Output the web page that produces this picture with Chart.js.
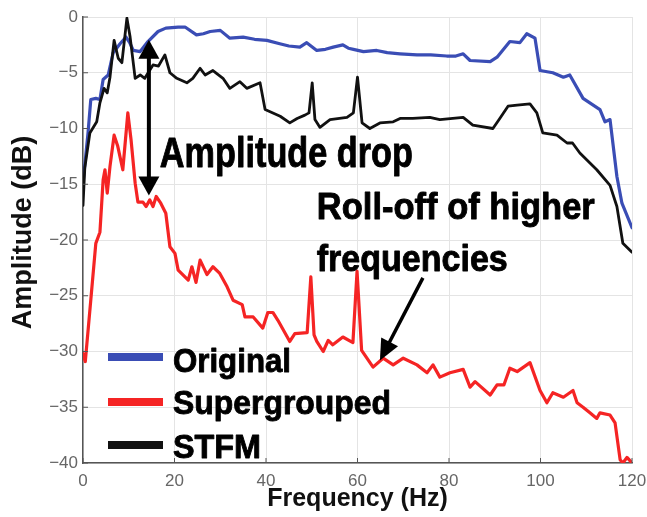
<!DOCTYPE html>
<html><head><meta charset="utf-8">
<script src="https://cdn.jsdelivr.net/npm/chart.js@4"></script>
<style>html,body{margin:0;padding:0;background:#fff}</style>
</head><body>
<canvas id="c" width="647" height="517"></canvas>
<script>
// ---- data ----
const xTickValues = [0, 20, 40, 60, 80, 100, 120];
const yTickValues = [0, -5, -10, -15, -20, -25, -30, -35, -40];

const originalFreq = [0, 1.1, 1.7, 2.8, 3.7, 4.4, 5.5, 6.6, 8.1, 9.4, 10.2, 11.0, 12.5, 14.2, 16.4, 18.1, 20.8, 22.3, 24.8, 26.3, 27.8, 30.0, 32.1, 35.0, 37.5, 40.2, 43.0, 45.0, 47.4, 48.9, 51.1, 53.0, 54.7, 56.8, 58.0, 59.1, 61.3, 64.2, 66.5, 69.3, 73.0, 76.0, 79.5, 81.5, 83.1, 84.6, 89.0, 90.5, 93.3, 95.5, 97.0, 98.8, 99.9, 102.7, 105.0, 106.4, 109.3, 113.0, 114.1, 115.2, 116.7, 117.8, 120];
const originalDb   = [-14.9, -10.4, -7.4, -7.3, -7.4, -5.6, -5.2, -3.2, -2.4, -1.8, -2.3, -3.0, -3.1, -2.2, -1.3, -1.0, -0.9, -0.9, -1.6, -1.5, -1.3, -1.2, -1.9, -1.8, -2.0, -2.1, -2.4, -2.6, -2.7, -2.3, -3.0, -2.9, -2.7, -2.5, -2.8, -2.9, -3.1, -3.0, -3.2, -3.3, -3.4, -3.4, -3.5, -3.5, -3.3, -3.9, -4.0, -3.6, -2.2, -2.3, -1.5, -1.9, -4.8, -5.0, -5.4, -5.2, -7.3, -8.3, -9.4, -9.2, -14.3, -16.7, -18.9];

const stfmFreq = [0, 0.4, 1.5, 3.0, 3.7, 4.6, 5.3, 5.9, 6.8, 7.7, 8.5, 9.6, 10.3, 11.4, 12.5, 13.5, 15.3, 16.5, 17.9, 19.0, 20.5, 22.7, 24.0, 25.6, 26.7, 28.4, 30.6, 32.1, 34.3, 35.8, 38.7, 39.8, 43.1, 45.2, 46.8, 48.5, 49.4, 50.1, 50.7, 51.8, 54.0, 57.7, 59.1, 60.0, 61.0, 62.7, 64.9, 67.8, 69.3, 72.1, 75.8, 78.0, 83.1, 85.2, 89.6, 91.1, 92.9, 94.9, 97.7, 99.2, 100.5, 103.6, 105.8, 107.0, 108.6, 112.3, 115.2, 116.7, 118.0, 120];
const stfmDb   = [-16.9, -13.5, -10.4, -9.4, -7.7, -6.4, -6.8, -5.4, -2.1, -3.7, -4.1, -0.1, -1.8, -5.5, -5.2, -5.5, -4.3, -4.4, -3.4, -5.0, -5.5, -5.9, -5.5, -4.6, -5.2, -4.8, -5.5, -6.4, -5.8, -6.4, -5.9, -8.3, -8.9, -9.5, -9.1, -8.8, -8.6, -5.9, -9.2, -9.9, -9.2, -9.0, -8.6, -5.4, -9.5, -10.0, -9.5, -9.4, -9.1, -9.1, -9.0, -9.2, -9.0, -9.7, -10.0, -9.1, -8.0, -7.9, -7.8, -8.6, -10.4, -10.6, -11.3, -11.3, -12.2, -13.7, -15.1, -17.0, -20.3, -21.1];

const superFreq = [0, 0.5, 1.7, 2.8, 3.7, 4.4, 4.8, 5.3, 5.9, 6.8, 7.6, 8.7, 9.8, 10.5, 11.4, 12.0, 13.1, 13.8, 14.6, 15.3, 16.0, 17.0, 18.1, 19.0, 20.1, 20.8, 23.0, 23.8, 24.7, 25.6, 27.1, 28.4, 29.9, 31.5, 32.8, 34.8, 35.4, 37.2, 39.3, 40.4, 41.5, 42.6, 45.2, 46.3, 49.0, 49.8, 50.5, 51.1, 52.5, 53.6, 54.6, 56.8, 59.0, 59.9, 60.9, 63.4, 65.6, 67.8, 70.0, 73.0, 75.2, 76.5, 78.0, 80.2, 83.1, 84.6, 85.7, 89.0, 90.5, 92.0, 93.3, 94.9, 97.7, 99.9, 101.4, 102.7, 105.0, 107.1, 108.0, 109.3, 110.8, 112.3, 113.0, 115.2, 116.3, 117.4, 118.0, 118.9, 120];
const superDb   = [-30.2, -30.9, -25.4, -20.3, -19.3, -14.6, -13.7, -15.8, -13.4, -10.6, -11.6, -13.7, -8.6, -11.0, -14.9, -16.6, -16.6, -17.0, -16.4, -17.0, -16.1, -16.7, -17.6, -20.6, -21.2, -22.7, -23.6, -22.4, -23.8, -21.8, -23.1, -22.4, -23.0, -24.2, -25.4, -25.8, -26.9, -26.9, -27.9, -26.5, -26.5, -27.2, -29.1, -28.4, -28.3, -23.3, -28.5, -29.1, -30.0, -29.0, -29.4, -28.7, -29.2, -22.8, -29.9, -31.4, -30.6, -31.2, -30.6, -31.2, -31.9, -31.2, -32.3, -31.9, -31.6, -33.2, -32.7, -33.9, -33.0, -33.0, -31.5, -31.8, -31.0, -33.5, -34.6, -33.7, -34.1, -33.5, -34.6, -35.0, -35.5, -36.0, -35.5, -35.7, -36.4, -39.7, -40, -39.5, -40];

const seriesNames  = ['Original', 'Supergrouped', 'STFM'];
const seriesColors = ['#3a4db5', '#f52424', '#111111'];

function pts(fx, fy) { return fx.map((f, i) => ({x: f, y: fy[i]})); }

const FONT = '"Liberation Sans", Arial, Helvetica, sans-serif';

function stretchText(ctx, text, x, y, size, targetW) {
  ctx.save();
  ctx.font = 'bold ' + size + 'px ' + FONT;
  ctx.textBaseline = 'alphabetic';
  ctx.textAlign = 'left';
  const w = ctx.measureText(text).width;
  ctx.translate(x, y);
  ctx.scale(targetW / w, 1);
  ctx.fillStyle = '#000';
  ctx.strokeStyle = '#000';
  ctx.lineWidth = 0.9;
  ctx.lineJoin = 'round';
  ctx.fillText(text, 0, 0);
  ctx.strokeText(text, 0, 0);
  ctx.restore();
}

function arrowHead(ctx, x1, y1, x2, y2, len, wid) {
  const a = Math.atan2(y2 - y1, x2 - x1);
  ctx.beginPath();
  ctx.moveTo(x2, y2);
  ctx.lineTo(x2 - len * Math.cos(a) + wid / 2 * Math.sin(a), y2 - len * Math.sin(a) - wid / 2 * Math.cos(a));
  ctx.lineTo(x2 - len * Math.cos(a) - wid / 2 * Math.sin(a), y2 - len * Math.sin(a) + wid / 2 * Math.cos(a));
  ctx.closePath();
  ctx.fill();
}

const overlay = {
  id: 'overlay',
  afterDatasetsDraw(chart) {
    const ctx = chart.ctx, xs = chart.scales.x, ys = chart.scales.y, ca = chart.chartArea;
    // inward tick marks on the left / bottom axes
    ctx.save();
    ctx.strokeStyle = '#555'; ctx.lineWidth = 1;
    yTickValues.forEach(v => { const y = ys.getPixelForValue(v); ctx.beginPath(); ctx.moveTo(ca.left, y); ctx.lineTo(ca.left + 5, y); ctx.stroke(); });
    xTickValues.forEach(v => { const x = xs.getPixelForValue(v); ctx.beginPath(); ctx.moveTo(x, ca.bottom); ctx.lineTo(x, ca.bottom - 5); ctx.stroke(); });
    ctx.restore();

    ctx.save();
    ctx.fillStyle = '#000'; ctx.strokeStyle = '#000';
    // double-headed arrow ("Amplitude drop")
    const ax = xs.getPixelForValue(14.4), aTop = ys.getPixelForValue(-2.05), aBot = ys.getPixelForValue(-16.0);
    ctx.lineWidth = 4;
    ctx.beginPath(); ctx.moveTo(ax, aTop + 15); ctx.lineTo(ax, aBot - 15); ctx.stroke();
    arrowHead(ctx, ax, aBot, ax, aTop, 19, 21);
    arrowHead(ctx, ax, aTop, ax, aBot, 19, 21);
    // arrow for roll-off
    const bx1 = xs.getPixelForValue(74.3), by1 = ys.getPixelForValue(-23.4);
    const bx2 = xs.getPixelForValue(64.9), by2 = ys.getPixelForValue(-30.8);
    const ang = Math.atan2(by2 - by1, bx2 - bx1);
    ctx.lineWidth = 3.5;
    ctx.beginPath(); ctx.moveTo(bx1, by1); ctx.lineTo(bx2 - 16 * Math.cos(ang), by2 - 16 * Math.sin(ang)); ctx.stroke();
    arrowHead(ctx, bx1, by1, bx2, by2, 21, 19);
    ctx.restore();

    // annotation texts
    stretchText(ctx, 'Amplitude drop', xs.getPixelForValue(16.8), ys.getPixelForValue(-13.45), 42, 253);
    stretchText(ctx, 'Roll-off of higher', xs.getPixelForValue(51.1), ys.getPixelForValue(-18.1), 37, 278);
    stretchText(ctx, 'frequencies', xs.getPixelForValue(51.1), ys.getPixelForValue(-22.8), 37, 191);

    // legend inside the plot
    const legX1 = ca.left + 25, legX2 = ca.left + 80, txtX = ca.left + 90;
    const legY = [ca.top + 340, ca.top + 385, ca.top + 428];
    const txtY = [ca.top + 355, ca.top + 397, ca.top + 441];
    const txtW = [118, 218, 88];
    ctx.save();
    ctx.lineWidth = 8; ctx.lineCap = 'butt';
    seriesNames.forEach((n, i) => {
      ctx.strokeStyle = seriesColors[i];
      ctx.beginPath(); ctx.moveTo(legX1, legY[i]); ctx.lineTo(legX2, legY[i]); ctx.stroke();
    });
    ctx.restore();
    seriesNames.forEach((n, i) => stretchText(ctx, n, txtX, txtY[i], 34, txtW[i]));
  }
};

const ticksFont = {family: FONT, size: 17};

new Chart(document.getElementById('c'), {
  type: 'line',
  data: {
    datasets: [
      {label: seriesNames[2], data: pts(stfmFreq, stfmDb), borderColor: seriesColors[2], borderWidth: 2.8, order: 1},
      {label: seriesNames[0], data: pts(originalFreq, originalDb), borderColor: seriesColors[0], borderWidth: 3.2, order: 2},
      {label: seriesNames[1], data: pts(superFreq, superDb), borderColor: seriesColors[1], borderWidth: 3.2, order: 3}
    ]
  },
  options: {
    responsive: false,
    animation: false,
    devicePixelRatio: 1,
    elements: {point: {radius: 0}, line: {tension: 0, borderJoinStyle: 'round', borderCapStyle: 'round'}},
    layout: {autoPadding: false, padding: {top: 17, right: 15, left: 0, bottom: 0}},
    plugins: {legend: {display: false}, tooltip: {enabled: false}},
    scales: {
      x: {
        type: 'linear', min: 0, max: 120,
        afterBuildTicks: s => { s.ticks = xTickValues.map(v => ({value: v})); },
        afterFit: s => { s.height = 54; s.paddingLeft = 0; s.paddingRight = 0; },
        ticks: {font: ticksFont, color: '#666', padding: 8, maxRotation: 0, autoSkip: false},
        grid: {color: '#e4e4e4', lineWidth: 1, drawTicks: false},
        border: {display: true, color: '#555', width: 1.5},
        title: {display: true, text: 'Frequency (Hz)', color: '#111', font: {family: FONT, size: 25, weight: 'bold'}, padding: {top: 0, bottom: 3}}
      },
      y: {
        type: 'linear', min: -40, max: 0,
        afterBuildTicks: s => { s.ticks = yTickValues.map(v => ({value: v})); },
        afterFit: s => { s.width = 83; s.paddingTop = 0; s.paddingBottom = 0; },
        ticks: {font: ticksFont, color: '#666', padding: 5, autoSkip: false,
                callback: v => v < 0 ? '\u2212' + Math.abs(v) : String(v)},
        grid: {color: '#e4e4e4', lineWidth: 1, drawTicks: false},
        border: {display: true, color: '#555', width: 1.5},
        title: {display: true, text: '  Amplitude (dB)', color: '#111', font: {family: FONT, size: 27, weight: 'bold'}, padding: {top: 7, bottom: 0}}
      }
    }
  },
  plugins: [overlay]
});
</script>
</body></html>
